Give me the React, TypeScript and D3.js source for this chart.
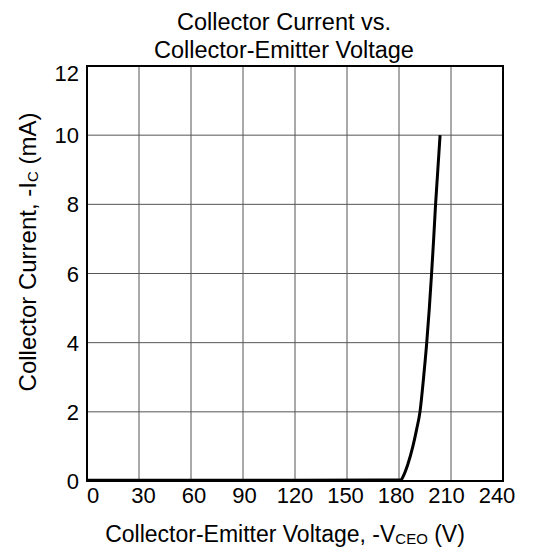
import React from "react";
import * as d3 from "d3";

// curve
const voltage = [0, 60, 120, 181, 183, 185.2, 188, 190.2, 192.1, 194.2, 196, 197.5, 198.8, 200, 201.1, 202.4, 203.7];
const current = [0.02, 0.02, 0.02, 0.03, 0.2, 0.5, 1, 1.5, 2, 3, 4, 5, 6, 7, 8, 9, 10];
const xTicks = [0, 30, 60, 90, 120, 150, 180, 210, 240];
const yTicks = [0, 2, 4, 6, 8, 10, 12];

const W = 533;
const H = 552;
const margin = { top: 66, right: 30, bottom: 71, left: 87 };
const FONT = "'Liberation Sans', Arial, sans-serif";

const App: React.FC = () => {
  const x = d3.scaleLinear().domain([0, 240]).range([margin.left, W - margin.right]);
  const y = d3.scaleLinear().domain([0, 12]).range([H - margin.bottom, margin.top]);
  // tick labels sit slightly inset from the frame in the original
  const xLab = d3.scaleLinear().domain([0, 240]).range([margin.left + 6, W - margin.right - 6]);

  const pts = voltage.map((v, i) => [v, current[i]] as [number, number]);
  const line = d3
    .line<[number, number]>()
    .x((d) => x(d[0]))
    .y((d) => y(d[1]))
    .curve(d3.curveMonotoneX);

  const x0 = margin.left;
  const x1 = W - margin.right;
  const y0 = margin.top;
  const y1 = H - margin.bottom;

  return (
    <svg
      width={W}
      height={H}
      style={{ position: "absolute", left: 0, top: 0, background: "#fff" }}
      fontFamily={FONT}
    >
      <text x={284} y={30} textAnchor="middle" fontSize={23.5}>
        Collector Current vs.
      </text>
      <text x={284} y={58} textAnchor="middle" fontSize={23.5}>
        Collector-Emitter Voltage
      </text>

      {xTicks.slice(1, -1).map((t) => (
        <line key={"gx" + t} x1={x(t)} x2={x(t)} y1={y0} y2={y1} stroke="#555" strokeWidth={1} />
      ))}
      {yTicks.slice(1, -1).map((t) => (
        <line key={"gy" + t} x1={x0} x2={x1} y1={y(t)} y2={y(t)} stroke="#555" strokeWidth={1} />
      ))}
      <rect x={x0} y={y0} width={x1 - x0} height={y1 - y0} fill="none" stroke="#000" strokeWidth={2} />

      <path d={line(pts) ?? ""} fill="none" stroke="#000" strokeWidth={3} />

      {xTicks.map((t) => (
        <text key={"tx" + t} x={xLab(t)} y={503} textAnchor="middle" fontSize={22}>
          {t}
        </text>
      ))}
      {yTicks.map((t) => (
        <text
          key={"ty" + t}
          x={79}
          y={y(t) + 8 + (t === 12 ? 7 : 0)}
          textAnchor="end"
          fontSize={22}
        >
          {t}
        </text>
      ))}

      <text x={285} y={542} textAnchor="middle" fontSize={23}>
        Collector-Emitter Voltage, -V
        <tspan fontSize={15} dy={2}>CEO</tspan>
        <tspan dy={-2}> (V)</tspan>
      </text>
      <text
        transform={`translate(36, 252) rotate(-90)`}
        textAnchor="middle"
        fontSize={24}
      >
        Collector Current, -I
        <tspan fontSize={15} dy={2}>C</tspan>
        <tspan dy={-2}> (mA)</tspan>
      </text>
    </svg>
  );
};

export default App;
